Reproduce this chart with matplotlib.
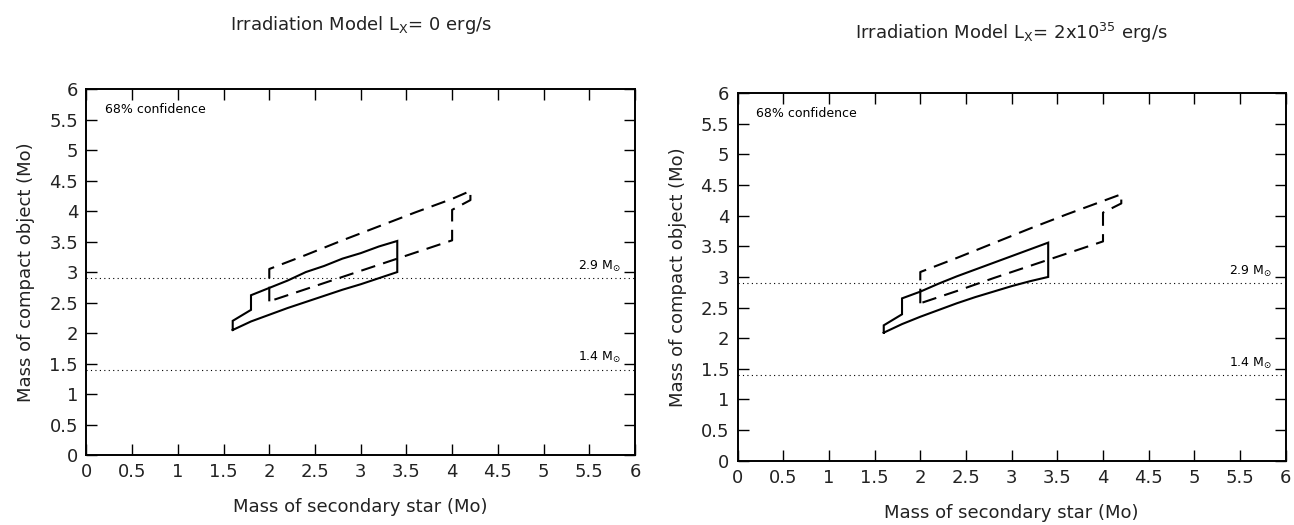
import numpy as np
import matplotlib
matplotlib.use("Agg")
import matplotlib.pyplot as plt

# 68% confidence contours
# left panel: Lx = 0
solid_x_0 = [1.6, 1.6, 1.8, 1.8, 2.0, 2.2, 2.4, 2.6, 2.8, 3.0, 3.2, 3.4, 3.4,
             3.2, 3.0, 2.8, 2.6, 2.4, 2.2, 2.0, 1.8, 1.6]
solid_y_0 = [2.05, 2.2, 2.38, 2.62, 2.74, 2.86, 3.0, 3.1, 3.22, 3.31, 3.42, 3.51, 3.0,
             2.9, 2.8, 2.71, 2.61, 2.51, 2.41, 2.3, 2.19, 2.05]
dash_x_0 = [2.0, 2.0, 2.4, 2.8, 3.2, 3.6, 4.0, 4.2, 4.2, 4.0, 4.0, 3.6, 3.2, 2.8, 2.4, 2.0]
dash_y_0 = [2.52, 3.05, 3.28, 3.52, 3.75, 3.98, 4.2, 4.33, 4.18, 4.02, 3.52, 3.32, 3.12, 2.92, 2.72, 2.52]

# right panel: Lx = 2x10^35
solid_x_35 = [1.6, 1.6, 1.8, 1.8, 2.0, 2.2, 2.4, 2.6, 2.8, 3.0, 3.2, 3.4, 3.4,
              3.2, 3.0, 2.8, 2.6, 2.4, 2.2, 2.0, 1.8, 1.6]
solid_y_35 = [2.09, 2.21, 2.39, 2.65, 2.76, 2.89, 3.01, 3.12, 3.23, 3.34, 3.45, 3.56, 3.0,
              2.93, 2.85, 2.76, 2.67, 2.57, 2.46, 2.35, 2.23, 2.09]
dash_x_35 = [2.0, 2.0, 2.4, 2.8, 3.2, 3.6, 4.0, 4.2, 4.2, 4.0, 4.0, 3.6, 3.2, 2.8, 2.4, 2.0]
dash_y_35 = [2.57, 3.08, 3.31, 3.55, 3.79, 4.02, 4.24, 4.35, 4.2, 4.05, 3.58, 3.38, 3.18, 2.98, 2.77, 2.57]

ref_masses = [2.9, 1.4]
ref_labels = ["2.9 M$_{\\odot}$", "1.4 M$_{\\odot}$"]

ticks = np.arange(0, 6.01, 0.5)
tick_labels = ["0", "0.5", "1", "1.5", "2", "2.5", "3", "3.5", "4", "4.5", "5", "5.5", "6"]

plt.rcParams["font.family"] = "DejaVu Sans"
plt.rcParams["mathtext.default"] = "regular"

fig = plt.figure(figsize=(12.94, 5.25), dpi=100)


def draw_panel(ax, sx, sy, dx, dy):
    ax.plot(sx, sy, color="black", lw=1.5, solid_joinstyle="miter")
    ax.plot(dx, dy, color="black", lw=1.5, dashes=(7, 4))
    for m, lab in zip(ref_masses, ref_labels):
        ax.axhline(m, color="black", lw=0.8, ls=(0, (1, 3)))
        ax.text(5.85, m + 0.07, lab, ha="right", va="bottom", fontsize=9)
    ax.text(0.2, 5.67, "68% confidence", fontsize=9, va="center")
    ax.set_xlim(0, 6)
    ax.set_ylim(0, 6)
    ax.set_xticks(ticks)
    ax.set_xticklabels(tick_labels)
    ax.set_yticks(ticks)
    ax.set_yticklabels(tick_labels)
    ax.tick_params(direction="in", top=True, right=True, length=8, width=1.0,
                   labelsize=13, pad=6, labelcolor="#222222")
    for s in ax.spines.values():
        s.set_linewidth(1.4)
    ax.set_xlabel("Mass of secondary star (Mo)", fontsize=13, labelpad=12, color="#222222")
    ax.set_ylabel("Mass of compact object (Mo)", fontsize=13, labelpad=10, color="#222222")


ax1 = fig.add_axes([0.0668, 0.1333, 0.4239, 0.697])
draw_panel(ax1, solid_x_0, solid_y_0, dash_x_0, dash_y_0)
ax2 = fig.add_axes([0.570, 0.1225, 0.4236, 0.700])
draw_panel(ax2, solid_x_35, solid_y_35, dash_x_35, dash_y_35)

fig.text(0.0668 + 0.4239 / 2, 0.952, "Irradiation Model L$_{X}$= 0 erg/s",
         ha="center", va="center", fontsize=13, color="#222222")
fig.text(0.570 + 0.4236 / 2, 0.937, "Irradiation Model L$_{X}$= 2x10$^{35}$ erg/s",
         ha="center", va="center", fontsize=13, color="#222222")

fig.savefig("out.png", dpi=100)
